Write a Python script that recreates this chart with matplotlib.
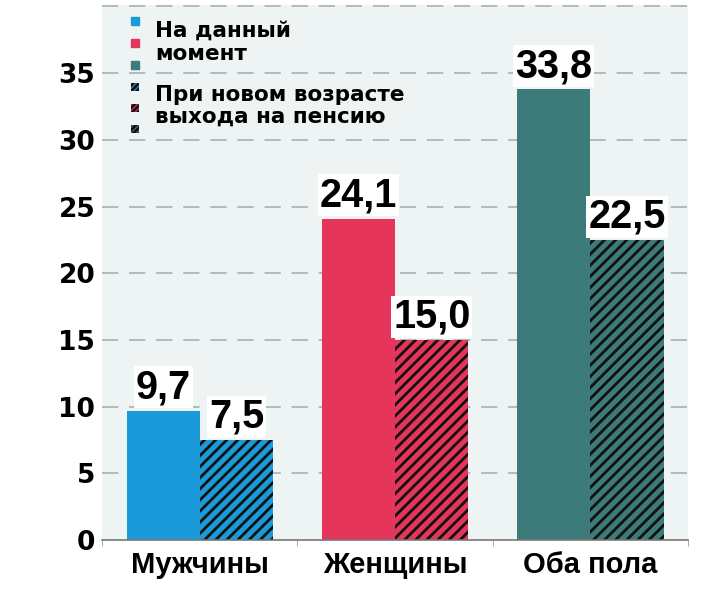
import matplotlib.pyplot as plt
import numpy as np
from matplotlib.patches import Rectangle

plt.rcParams['hatch.linewidth'] = 2.0
plt.rcParams['hatch.color'] = '#111111'

categories = ['Мужчины', 'Женщины', 'Оба пола']
current = [9.7, 24.1, 33.8]
new_age = [7.5, 15.0, 22.5]
colors = ['#1a9ad8', '#e5355a', '#3d7a7a']
labels_current = ['9,7', '24,1', '33,8']
labels_new = ['7,5', '15,0', '22,5']
yticks = [0, 5, 10, 15, 20, 25, 30, 35]
legend_lines = ['На данный', 'момент', 'При новом возрасте', 'выхода на пенсию']

fig = plt.figure(figsize=(7.19, 5.91), dpi=100)
ax = fig.add_axes([0.142, 0.0863, 0.815, 0.905])
ax.set_facecolor('#eef3f3')

x = np.arange(len(categories))
w = 0.375
b1 = ax.bar(x - w / 2, current, w, color=colors, zorder=2)
b2 = ax.bar(x + w / 2, new_age, w, color=colors, hatch='///', edgecolor='#111111',
            linewidth=0, zorder=2)

val_font = dict(family=['Liberation Sans Narrow', 'Liberation Sans'], weight='bold',
                fontsize=28.5)
for bars, labs in ((b1, labels_current), (b2, labels_new)):
    for bar, lab in zip(bars, labs):
        ax.annotate(lab, (bar.get_x() + bar.get_width() / 2, bar.get_height()),
                    xytext=(0, 3), textcoords='offset points', ha='center', va='bottom',
                    bbox=dict(boxstyle='square,pad=0.05', fc='white', ec='none'),
                    zorder=3, **val_font)

ax.set_xlim(-0.5, 2.5)
ax.set_ylim(0, 40.1)
ax.set_yticks(yticks)
ax.set_yticklabels([str(t) for t in yticks], family='DejaVu Sans', weight='bold',
                   fontsize=19)
ax.tick_params(axis='y', length=0, pad=5)
ax.set_xticks(x)
ax.set_xticklabels(categories, family='Liberation Sans', weight='bold', fontsize=21)
ax.tick_params(axis='x', length=0, pad=8)
ax.set_xticks([-0.5, 0.5, 1.5, 2.5], minor=True)
ax.tick_params(axis='x', which='minor', length=4, color='#999999')

for yv in yticks[1:] + [40]:
    ax.axhline(yv, color='#adb5b5', lw=1.3, ls=(0, (9, 6)), zorder=1)

for s in ['top', 'right', 'left']:
    ax.spines[s].set_visible(False)
ax.spines['bottom'].set_color('#777777')
ax.spines['bottom'].set_linewidth(1.2)

# legend drawn by hand: three colour squares per entry
def px(xp, yp):
    return (xp - 102) / 586, (540 - yp) / 535

sq_w, sq_h = 8 / 586, 8 / 535
for i, c in enumerate(colors):
    cx, cy = px(131, 17 + i * 22)
    ax.add_patch(Rectangle((cx, cy - sq_h), sq_w, sq_h, transform=ax.transAxes,
                           color=c, clip_on=False, zorder=4))
    cx, cy = px(131, 83 + i * 21)
    ax.add_patch(Rectangle((cx, cy - sq_h), sq_w, sq_h, transform=ax.transAxes,
                           facecolor=c, hatch='//////', edgecolor='#111111', lw=0,
                           clip_on=False, zorder=4))

for line, yb in zip(legend_lines, [37, 60, 101, 123]):
    tx, ty = px(155, yb)
    ax.text(tx, ty, line, transform=ax.transAxes, family='DejaVu Sans', weight='bold',
            fontsize=15.5, va='baseline', ha='left', zorder=4)

fig.savefig('out.png', dpi=100)
